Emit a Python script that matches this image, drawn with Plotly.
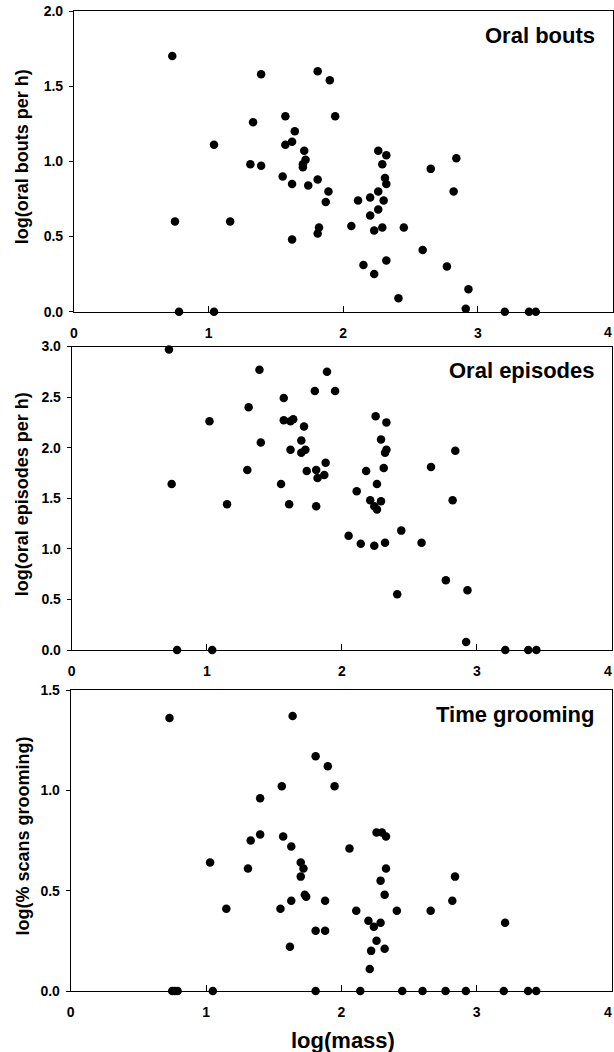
import plotly.graph_objects as go

# ---------------- data ----------------
bouts_mass = [0.73, 0.75, 0.78, 1.04, 1.04, 1.16, 1.31, 1.33, 1.39, 1.39,
              1.55, 1.57, 1.57, 1.62, 1.64, 1.62, 1.62, 1.71, 1.72, 1.70,
              1.70, 1.74, 1.81, 1.81, 1.82, 1.81, 1.89, 1.87, 1.90, 1.94,
              2.06, 2.11, 2.15, 2.20, 2.20, 2.23, 2.23, 2.26, 2.26, 2.26,
              2.29, 2.29, 2.30, 2.32, 2.31, 2.32, 2.32, 2.41, 2.45, 2.59,
              2.65, 2.77, 2.82, 2.84, 2.93, 2.91, 3.20, 3.38, 3.43]
bouts_val = [1.70, 0.60, 0.00, 1.11, 0.00, 0.60, 0.98, 1.26, 1.58, 0.97,
             0.90, 1.30, 1.11, 1.13, 1.20, 0.85, 0.48, 1.07, 1.01, 0.98,
             0.96, 0.84, 1.60, 0.88, 0.56, 0.52, 0.80, 0.73, 1.54, 1.30,
             0.57, 0.74, 0.31, 0.76, 0.64, 0.54, 0.25, 1.07, 0.80, 0.68,
             0.98, 0.56, 0.74, 1.04, 0.89, 0.85, 0.34, 0.09, 0.56, 0.41,
             0.95, 0.30, 0.80, 1.02, 0.15, 0.02, 0.00, 0.00, 0.00]

episodes_mass = [0.72, 0.74, 0.78, 1.02, 1.04, 1.15, 1.30, 1.31, 1.39, 1.40,
                 1.55, 1.57, 1.57, 1.62, 1.64, 1.61, 1.62, 1.72, 1.70, 1.73,
                 1.70, 1.74, 1.80, 1.81, 1.82, 1.81, 1.87, 1.88, 1.89, 1.95,
                 2.05, 2.11, 2.14, 2.18, 2.21, 2.24, 2.26, 2.24, 2.25, 2.26,
                 2.29, 2.29, 2.31, 2.32, 2.33, 2.33, 2.32, 2.41, 2.44, 2.59,
                 2.66, 2.77, 2.82, 2.84, 2.93, 2.92, 3.21, 3.38, 3.44]
episodes_val = [2.97, 1.64, 0.00, 2.26, 0.00, 1.44, 1.78, 2.40, 2.77, 2.05,
                1.64, 2.49, 2.27, 2.26, 2.28, 1.44, 1.98, 2.21, 2.07, 1.98,
                1.95, 1.77, 2.56, 1.78, 1.70, 1.42, 1.73, 1.85, 2.75, 2.56,
                1.13, 1.57, 1.05, 1.77, 1.48, 1.42, 1.39, 1.03, 2.31, 1.64,
                2.08, 1.47, 1.80, 1.06, 2.25, 1.98, 1.95, 0.55, 1.18, 1.06,
                1.81, 0.69, 1.48, 1.97, 0.59, 0.08, 0.00, 0.00, 0.00]

grooming_mass = [0.73, 0.75, 0.77, 0.79, 1.03, 1.05, 1.15, 1.31, 1.33, 1.40,
                 1.40, 1.55, 1.56, 1.57, 1.64, 1.63, 1.63, 1.62, 1.70, 1.72,
                 1.70, 1.73, 1.74, 1.81, 1.81, 1.81, 1.88, 1.88, 1.90, 1.95,
                 2.06, 2.11, 2.14, 2.20, 2.21, 2.22, 2.24, 2.26, 2.26, 2.29,
                 2.29, 2.30, 2.33, 2.32, 2.32, 2.33, 2.41, 2.45, 2.60, 2.66,
                 2.77, 2.82, 2.84, 2.92, 3.20, 3.21, 3.38, 3.44]
grooming_val = [1.36, 0.00, 0.00, 0.00, 0.64, 0.00, 0.41, 0.61, 0.75, 0.96,
                0.78, 0.41, 1.02, 0.77, 1.37, 0.72, 0.45, 0.22, 0.64, 0.61,
                0.57, 0.48, 0.47, 1.17, 0.30, 0.00, 0.30, 0.45, 1.12, 1.02,
                0.71, 0.40, 0.00, 0.35, 0.11, 0.20, 0.32, 0.25, 0.79, 0.55,
                0.34, 0.79, 0.77, 0.48, 0.21, 0.61, 0.40, 0.00, 0.00, 0.40,
                0.00, 0.45, 0.57, 0.00, 0.00, 0.34, 0.00, 0.00]

panel_labels = ["Oral bouts", "Oral episodes", "Time grooming"]
y_titles = ["log(oral bouts per h)", "log(oral episodes per h)", "log(% scans grooming)"]
y_ranges = [[0, 2.0], [0, 3.0], [0, 1.5]]
y_ticks = [[0.0, 0.5, 1.0, 1.5, 2.0],
           [0.0, 0.5, 1.0, 1.5, 2.0, 2.5, 3.0],
           [0.0, 0.5, 1.0, 1.5]]
x_ticks = [0, 1, 2, 3, 4]
x_title = "log(mass)"

W, H = 614, 1052
# panel frames in pixels: left, right, top, bottom
frames = [(74, 612.5, 11, 311.7), (71.7, 612, 346.5, 650), (70.7, 612, 690, 991)]

FONT = "Arial, Liberation Sans, Helvetica, sans-serif"
TICKFONT = dict(size=14, family=FONT, weight="bold", color="black")

fig = go.Figure()
series = [(bouts_mass, bouts_val), (episodes_mass, episodes_val), (grooming_mass, grooming_val)]
for i, (xs, ys) in enumerate(series):
    sfx = "" if i == 0 else str(i + 1)
    fig.add_trace(go.Scatter(x=xs, y=ys, mode="markers", xaxis="x" + sfx, yaxis="y" + sfx,
                             marker=dict(size=8.5, color="black"), cliponaxis=False,
                             showlegend=False, hoverinfo="x+y"))

layout = dict(width=W, height=H, margin=dict(l=0, r=0, t=0, b=0, autoexpand=False),
              paper_bgcolor="white", plot_bgcolor="white",
              font=dict(family=FONT, color="black"))
annotations = []
last_tick = x_ticks[-1]
for i, (l, r, t, b) in enumerate(frames):
    sfx = "" if i == 0 else str(i + 1)
    # the last tick label sits at the page edge; it is drawn right-aligned so it stays visible
    layout["xaxis" + sfx] = dict(
        domain=[l / W, r / W], range=[0, 4], anchor="y" + sfx, automargin=False,
        tickvals=x_ticks, ticktext=[str(v) if v != last_tick else "" for v in x_ticks],
        ticks="inside", ticklen=6, tickcolor="black", tickwidth=1,
        showline=True, linecolor="black", linewidth=1.3, mirror=True,
        showgrid=False, zeroline=False, ticklabelstandoff=8,
        tickfont=TICKFONT)
    layout["yaxis" + sfx] = dict(
        domain=[1 - b / H, 1 - t / H], range=y_ranges[i], anchor="x" + sfx, automargin=False,
        tickvals=y_ticks[i], tickformat=".1f",
        ticks="outside", ticklen=4, tickcolor="black", tickwidth=1,
        showline=True, linecolor="black", linewidth=1.1, mirror=True,
        showgrid=False, zeroline=False, ticklabelstandoff=3,
        tickfont=TICKFONT)
    annotations.append(dict(text=str(last_tick), xref="paper", yref="paper",
                            x=1.0, y=1 - (b + 20.5) / H, xanchor="right", yanchor="middle",
                            showarrow=False, font=TICKFONT))
    annotations.append(dict(text=panel_labels[i], xref="paper", yref="paper",
                            x=597 / W, y=1 - (t + 24) / H, xanchor="right", yanchor="middle",
                            showarrow=False,
                            font=dict(size=22, family=FONT, weight="bold", color="black")))
    annotations.append(dict(text=y_titles[i], xref="paper", yref="paper",
                            x=22 / W, y=1 - ((t + b) / 2 - 4) / H, xanchor="center", yanchor="middle",
                            textangle=-90, showarrow=False,
                            font=dict(size=18, family=FONT, weight="bold", color="black")))
annotations.append(dict(text=x_title, xref="paper", yref="paper",
                        x=343 / W, y=1 - 1040 / H, xanchor="center", yanchor="middle",
                        showarrow=False,
                        font=dict(size=22, family=FONT, weight="bold", color="black")))
layout["annotations"] = annotations
fig.update_layout(**layout)

fig.write_html("out.html", config={"displayModeBar": False},
               post_script="document.body.style.margin='0';document.body.style.overflow='hidden';")
